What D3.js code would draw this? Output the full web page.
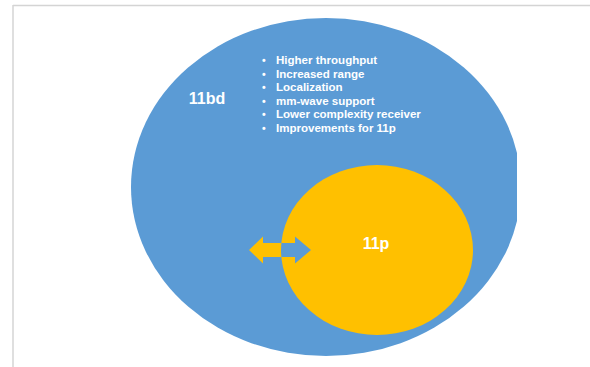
<!DOCTYPE html>
<html>
<head>
<meta charset="utf-8">
<script src="https://cdn.jsdelivr.net/npm/d3@7"></script>
<style>
  body { margin: 0; background: #fff; }
  svg { display: block; }
</style>
</head>
<body>
<svg id="chart"></svg>
<script>
// data
const setNames = ['11bd', '11p'];
const featureItems = [
    'Higher throughput',
    'Increased range',
    'Localization',
    'mm-wave support',
    'Lower complexity receiver',
    'Improvements for 11p'
];

const width = 590, height = 367;
const blue = '#5b9bd5', yellow = '#ffc000';
const font = 'Liberation Sans, Arial, sans-serif';

// layout of the two sets (pixel space)
const sets = [
    {name: setNames[0], cx: 326, cy: 187, rx: 195, ry: 169, color: blue},
    {name: setNames[1], cx: 377, cy: 250, rx: 96, ry: 85, color: yellow}
];

const svg = d3.select('#chart')
    .attr('width', width)
    .attr('height', height);

// frame lines
svg.append('line')
    .attr('x1', 13).attr('y1', 5.5).attr('x2', width).attr('y2', 5.5)
    .attr('stroke', '#d4d4d4').attr('stroke-width', 1.5);
svg.append('line')
    .attr('x1', 13).attr('y1', 5).attr('x2', 13).attr('y2', height)
    .attr('stroke', '#d4d4d4').attr('stroke-width', 1.5);

const defs = svg.append('defs');
defs.append('clipPath').attr('id', 'outer-clip')
    .append('rect').attr('x', 0).attr('y', 0).attr('width', 517).attr('height', height);
defs.append('clipPath').attr('id', 'inner-clip')
    .append('ellipse')
    .attr('cx', sets[1].cx).attr('cy', sets[1].cy)
    .attr('rx', sets[1].rx).attr('ry', sets[1].ry);

const g = svg.append('g').attr('clip-path', 'url(#outer-clip)');

g.selectAll('ellipse.set')
    .data(sets)
    .join('ellipse')
    .attr('class', 'set')
    .attr('cx', d => d.cx)
    .attr('cy', d => d.cy)
    .attr('rx', d => d.rx)
    .attr('ry', d => d.ry)
    .attr('fill', d => d.color);

// double arrow between the sets, colours swap where it enters 11p
const ay = 250;
const arrowPts = [
    [249, ay], [263, ay - 13.5], [263, ay - 7], [295, ay - 7], [295, ay - 13.5],
    [311, ay], [295, ay + 13.5], [295, ay + 7], [263, ay + 7], [263, ay + 13.5]
];
const arrowPath = d3.line()(arrowPts) + 'Z';
svg.append('path').attr('d', arrowPath).attr('fill', yellow);
svg.append('path').attr('d', arrowPath).attr('fill', blue)
    .attr('clip-path', 'url(#inner-clip)');

// set labels
svg.append('text')
    .attr('x', 207).attr('y', 104)
    .attr('text-anchor', 'middle')
    .attr('font-family', font)
    .attr('font-weight', 'bold')
    .attr('font-size', 16)
    .attr('fill', '#fff')
    .text(sets[0].name);

svg.append('text')
    .attr('x', 376).attr('y', 249)
    .attr('text-anchor', 'middle')
    .attr('font-family', font)
    .attr('font-weight', 'bold')
    .attr('font-size', 16)
    .attr('fill', '#fff')
    .text(sets[1].name);

// bullet list
const ys = d3.scalePoint()
    .domain(featureItems)
    .range([64, 132]);

const items = svg.append('g')
    .attr('font-family', font)
    .attr('font-weight', 'bold')
    .attr('font-size', 10.5)
    .attr('fill', '#fff');

items.selectAll('text.bullet')
    .data(featureItems)
    .join('text')
    .attr('class', 'bullet')
    .attr('x', 262)
    .attr('y', d => ys(d))
    .text('•');

items.append('g')
    .attr('transform', 'translate(276,0) scale(1.1,1)')
    .selectAll('text.item')
    .data(featureItems)
    .join('text')
    .attr('class', 'item')
    .attr('x', 0)
    .attr('y', d => ys(d))
    .text(d => d);
</script>
</body>
</html>
